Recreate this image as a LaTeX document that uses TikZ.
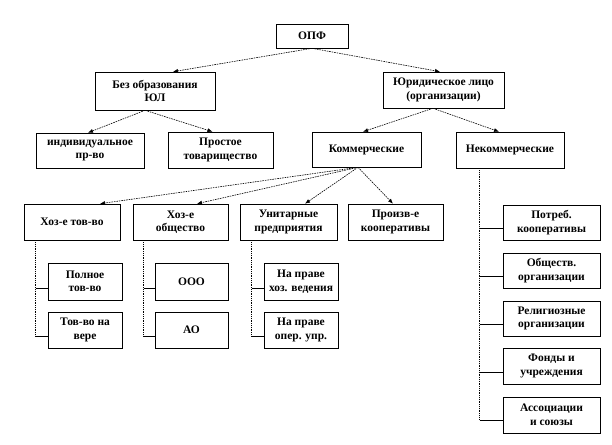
\documentclass[tikz,border=0pt]{standalone}
\usepackage{fontspec}
\setmainfont{Liberation Serif}
\usetikzlibrary{arrows.meta}
\tikzset{
  box/.style={draw=black, line width=0.6pt, inner sep=0pt, align=center,
    font=\bfseries\fontsize{11.5}{13.5}\selectfont},
  arr/.style={line width=0.6pt, dash pattern=on 1.6pt off 0.9pt,
    -{Latex[length=5pt,width=4pt]}},
  vline/.style={line width=0.6pt, dash pattern=on 1pt off 0.8pt},
  tick/.style={line width=0.6pt}
}
\begin{document}
\begin{tikzpicture}[x=1pt,y=-1pt]
\useasboundingbox (0,0) rectangle (612,444);
% level 0-1
\node[box, minimum width=72pt, minimum height=24pt] (opf) at (312,36) {ОПФ};
\node[box, minimum width=120pt, minimum height=38pt] (bez) at (155,91) {Без образования\\ЮЛ};
\node[box, minimum width=121pt, minimum height=36pt] (yur) at (443.5,90) {Юридическое лицо\\(организации)};
% level 2
\node[box, minimum width=108pt, minimum height=35pt] (ind) at (90,150.5) {индивидуальное\\пр-во};
\node[box, minimum width=105pt, minimum height=36pt] (pros) at (220.5,150) {Простое\\товарищество};
\node[box, minimum width=109pt, minimum height=35pt] (kom) at (366.5,149.5) {Коммерческие};
\node[box, minimum width=108pt, minimum height=36pt] (nekom) at (510,150) {Некоммерческие};
% level 3
\node[box, minimum width=96pt, minimum height=36pt] (hzt) at (72,222) {Хоз-е тов-во};
\node[box, minimum width=95pt, minimum height=36pt] (hzo) at (180.5,222) {Хоз-е\\общество};
\node[box, minimum width=97pt, minimum height=36pt] (unit) at (288.5,222) {Унитарные\\предприятия};
\node[box, minimum width=95pt, minimum height=36pt] (proiz) at (395.5,222) {Произв-е\\кооперативы};
% level 4
\node[box, minimum width=74pt, minimum height=37pt] (poln) at (85,281.5) {Полное\\тов-во};
\node[box, minimum width=74pt, minimum height=36pt] (tvv) at (85,330) {Тов-во на\\вере};
\node[box, minimum width=73pt, minimum height=37pt] (ooo) at (191.5,281.5) {ООО};
\node[box, minimum width=73pt, minimum height=36pt] (ao) at (191.5,330) {АО};
\node[box, minimum width=74pt, minimum height=37pt] (hozv) at (301,281.5) {На праве\\хоз. ведения};
\node[box, minimum width=74pt, minimum height=36pt] (oper) at (301,330) {На праве\\опер. упр.};
% right column
\node[box, minimum width=97pt, minimum height=35pt] (potr) at (551.5,222.5) {Потреб.\\кооперативы};
\node[box, minimum width=97pt, minimum height=35pt] (obsh) at (551.5,270.5) {Обществ.\\организации};
\node[box, minimum width=97pt, minimum height=35pt] (relig) at (551.5,318.5) {Религиозные\\организации};
\node[box, minimum width=97pt, minimum height=36pt] (fond) at (551.5,366) {Фонды и\\учреждения};
\node[box, minimum width=97pt, minimum height=36pt] (assoc) at (551.5,415) {Ассоциации\\и союзы};
% arrows
\draw[arr] (opf.south) -- ([xshift=18pt]bez.north);
\draw[arr] (opf.south) -- ([xshift=-3.5pt]yur.north);
\draw[arr] ([xshift=-10pt]bez.south) -- ([xshift=-2pt]ind.north);
\draw[arr] ([xshift=-10pt]bez.south) -- ([xshift=-8pt]pros.north);
\draw[arr] ([xshift=-10.5pt]yur.south) -- ([xshift=-3.5pt]kom.north);
\draw[arr] ([xshift=-10.5pt]yur.south) -- ([xshift=-11pt]nekom.north);
\draw[arr] ([xshift=-8.5pt]kom.south) -- ([xshift=28pt]hzt.north);
\draw[arr] ([xshift=-8.5pt]kom.south) -- ([xshift=16.5pt]hzo.north);
\draw[arr] ([xshift=-8.5pt]kom.south) -- ([xshift=16.5pt]unit.north);
\draw[arr] ([xshift=-8.5pt]kom.south) -- ([xshift=-2.5pt]proiz.north);
% tree lines: attachment points
\coordinate (v1) at ([xshift=12pt]hzt.south west);
\coordinate (v2) at ([xshift=11pt]hzo.south west);
\coordinate (v3) at ([xshift=12pt]unit.south west);
\coordinate (v4) at ([xshift=24pt]nekom.south west);
\coordinate (pA) at ([yshift=-6.5pt]poln.west);
\coordinate (pB) at ([yshift=-6pt]tvv.west);
\coordinate (oA) at ([yshift=-6.5pt]ooo.west);
\coordinate (oB) at ([yshift=-6pt]ao.west);
\coordinate (hA) at ([yshift=-6.5pt]hozv.west);
\coordinate (hB) at ([yshift=-6pt]oper.west);
\coordinate (r1) at ([yshift=-5.5pt]potr.west);
\coordinate (r2) at ([yshift=-5.5pt]obsh.west);
\coordinate (r3) at ([yshift=-5.5pt]relig.west);
\coordinate (r4) at ([yshift=-6pt]fond.west);
\coordinate (r5) at ([yshift=-5pt]assoc.west);
\draw[vline] (v1) -- (v1 |- pB);
\draw[tick] (v1 |- pA) -- (pA);
\draw[tick] (v1 |- pB) -- (pB);
\draw[vline] (v2) -- (v2 |- oB);
\draw[tick] (v2 |- oA) -- (oA);
\draw[tick] (v2 |- oB) -- (oB);
\draw[vline] (v3) -- (v3 |- hB);
\draw[tick] (v3 |- hA) -- (hA);
\draw[tick] (v3 |- hB) -- (hB);
\draw[vline] (v4) -- (v4 |- r5);
\draw[tick] (v4 |- r1) -- (r1);
\draw[tick] (v4 |- r2) -- (r2);
\draw[tick] (v4 |- r3) -- (r3);
\draw[tick] (v4 |- r4) -- (r4);
\draw[tick] (v4 |- r5) -- (r5);
\end{tikzpicture}
\end{document}
